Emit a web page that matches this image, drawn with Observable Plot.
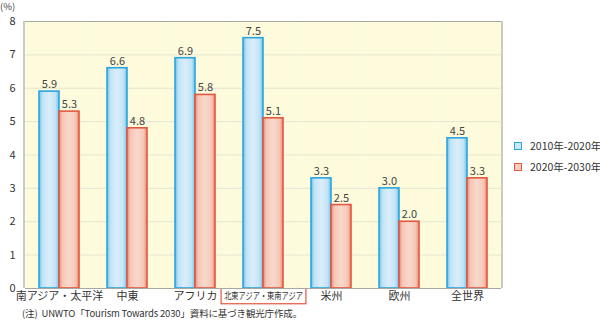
<!DOCTYPE html>
<html><head><meta charset="utf-8">
<script src="https://cdn.jsdelivr.net/npm/d3@7"></script>
<script src="https://cdn.jsdelivr.net/npm/@observablehq/plot@0.6"></script>
<style>
body{margin:0;background:#fff;font-family:"Noto Sans CJK JP","Noto Sans",sans-serif;color:#333;}
#wrap{position:relative;width:600px;height:320px;overflow:hidden;}
#unit{position:absolute;left:0;top:1px;font-size:9.5px;line-height:11px;color:#444;}
#chart{position:absolute;left:0;top:0;}
#legend{position:absolute;left:514px;top:135px;font-size:10.5px;color:#333;white-space:nowrap;width:90px;}
#legend .row{display:flex;align-items:center;height:21px;}
#legend .sw{width:6px;height:6px;margin-right:8px;border:1.5px solid;flex:none;}
#caption{position:absolute;left:22px;top:306px;font-size:9.5px;color:#333;white-space:pre;letter-spacing:-0.15px;}
</style></head>
<body><div id="wrap"><div id="chart"></div><div id="unit">(%)</div><div id="legend"></div><div id="caption"></div></div>
<script>
const categories = ["南アジア・太平洋","中東","アフリカ","北東アジア・東南アジア","米州","欧州","全世界"];
const series = ["2010年-2020年","2020年-2030年"];
const values2010_2020 = [5.9,6.6,6.9,7.5,3.3,3.0,4.5];
const values2020_2030 = [5.3,4.8,5.8,5.1,2.5,2.0,3.3];
const yTicks = [0,1,2,3,4,5,6,7,8];
const highlighted = "北東アジア・東南アジア";
const caption = "(注)  UNWTO「Tourism Towards 2030」資料に基づき観光庁作成。";

const strokes = ["#2aa5dd","#e2573f"];
const fills = ["url(#gBlue)","url(#gRed)"];

const rows = categories.flatMap((c,i)=>[
  {cat:c, series:series[0], value:values2010_2020[i]},
  {cat:c, series:series[1], value:values2020_2030[i]}
]);

const plot = Plot.plot({
  width: 505, height: 306,
  marginLeft: 24, marginRight: 3, marginTop: 21, marginBottom: 18,
  style: {fontFamily: '"Noto Sans CJK JP","Noto Sans",sans-serif', fontSize: "11px", color: "#333", background: "transparent"},
  facet: {data: rows, x: "cat"},
  fx: {domain: categories, padding: 0, tickSize: 0, tickPadding: 4, label: null, axis: "bottom"},
  x: {domain: series, paddingInner: 0, paddingOuter: 0.626, axis: null},
  y: {domain: [0,8], ticks: yTicks, tickSize: 0, tickPadding: 10, label: null},
  marks: [
    Plot.frame({fill: "#fdfbdb", stroke: "none"}),
    Plot.ruleY(yTicks.slice(1,-1), {stroke: "#e7e5d2", strokeWidth: 1}),
    ...series.map((s,k)=>Plot.barY(rows, {
      filter: d=>d.series===s, x:"series", y:"value",
      fill: fills[k], stroke: strokes[k], strokeWidth: 1.6
    })),
    Plot.text(rows, {x:"series", y:"value", text: d=>d.value.toFixed(1), dy:-7, fill:"#444", fontSize: 11}),
    Plot.ruleY([0,8], {stroke:"#a8a8a0", strokeWidth: 1.2})
  ]
});
document.getElementById("chart").appendChild(plot);

const svg = d3.select(plot);
const defs = svg.insert("defs", ":first-child");
function grad(id, edge, mid){
  const g = defs.append("linearGradient").attr("id", id).attr("x1","0").attr("x2","1").attr("y1","0").attr("y2","0");
  [[0,edge],[0.18,mid[0]],[0.5,mid[1]],[0.82,mid[0]],[1,edge]].forEach(([o,c])=>g.append("stop").attr("offset",o).attr("stop-color",c));
}
grad("gBlue", "#6cc3ec", ["#c4e3f6","#d9eefa"]);
grad("gRed", "#eb8d78", ["#f5c8b8","#f9d8cc"]);

// side borders of the plot area
const yScale = plot.scale("y");
const [yb, yt] = yScale.range;
const W = 505, ml = 24, mr = 3;
svg.append("line").attr("x1",ml).attr("x2",ml).attr("y1",yt).attr("y2",yb).attr("stroke","#a8a8a0").attr("stroke-width",1.2);
svg.append("line").attr("x1",W-mr).attr("x2",W-mr).attr("y1",yt).attr("y2",yb).attr("stroke","#a8a8a0").attr("stroke-width",1.2);

// box around the highlighted category label (horizontally condensed text)
const squeeze = 0.76;
svg.selectAll("text").filter(function(){return this.textContent===highlighted;}).each(function(){
  const t0 = this.getAttribute("transform") || "";
  d3.select(this).attr("font-size", 9.5);
  const b = this.getBBox();
  d3.select(this).attr("transform", (t0 + " scale(" + squeeze + ",1)").trim());
  d3.select(this.parentNode).insert("rect", ()=>this)
    .attr("x", b.x*squeeze-3).attr("y", b.y-1.5).attr("width", b.width*squeeze+6).attr("height", b.height+3)
    .attr("fill","#fff").attr("stroke","#e2573f").attr("stroke-width",1.2)
    .attr("transform", t0 || null);
});

const legend = d3.select("#legend");
series.forEach((s,k)=>{
  const r = legend.append("div").attr("class","row");
  r.append("div").attr("class","sw").style("border-color",strokes[k]).style("background", k===0?"#cde8f8":"#f7cfc0");
  r.append("span").text(s);
});
document.getElementById("caption").textContent = caption;
</script></body></html>
